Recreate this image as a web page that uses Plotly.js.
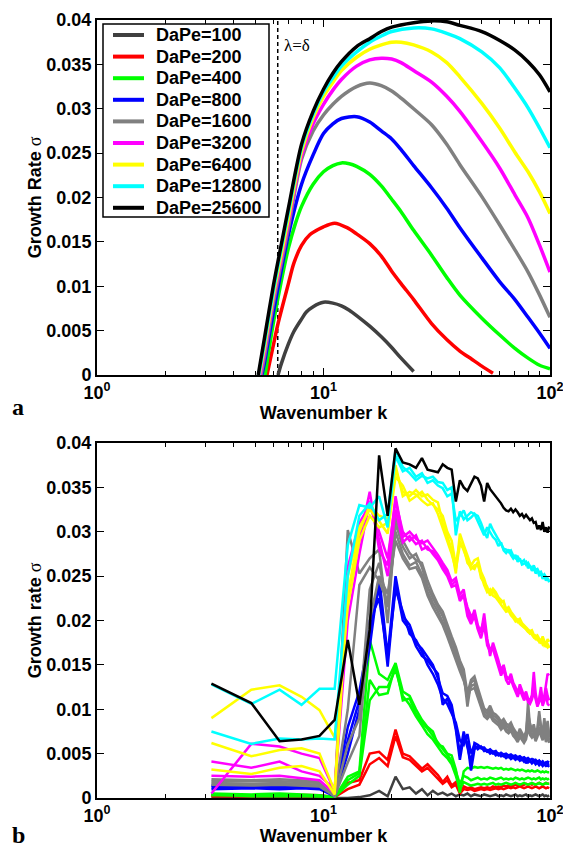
<!DOCTYPE html>
<html><head><meta charset="utf-8">
<script src="https://cdn.plot.ly/plotly-3.0.1.min.js"></script>
<style>html,body{margin:0;padding:0;background:#fff}#chart{width:563px;height:848px}</style>
</head><body><div id="chart"></div>
<script>
// ---------- labels & colours ----------
var DAPE_LABELS = ['DaPe=100','DaPe=200','DaPe=400','DaPe=800','DaPe=1600','DaPe=3200','DaPe=6400','DaPe=12800','DaPe=25600'];
var COLORS = ['#404040','#ff0000','#00ff00','#0000ff','#808080','#ff00ff','#ffff00','#00ffff','#000000'];
var X_TICKS = [1, 10, 100];
var X_TICKTEXT = ['10<sup>0</sup>','10<sup>1</sup>','10<sup>2</sup>'];
var MINOR_TICKS = [2,3,4,5,6,7,8,9,20,30,40,50,60,70,80,90];
var LAMBDA_K = 6.28;

// ---------- panel a: linear theory curves ----------
var K_100 = [6.3,6.5,7,7.4,8,8.4,9,10,11,12,13,14,16,18,20,22,25];
var S_100 = [0,0.0012,0.0035,0.0049,0.0063,0.0071,0.0077,0.0082,0.0081,0.0078,0.0073,0.0067,0.0055,0.0043,0.0031,0.0019,0.0004];
var K_200 = [5.63,6,6.3,7,7.4,8,8.7,10,11.2,12.7,14,16,18,20,22,25,30,35,40,45,50,56];
var S_200 = [0,0.0033,0.0058,0.0103,0.0126,0.0146,0.0158,0.0167,0.0171,0.0166,0.0159,0.0148,0.0134,0.0117,0.0103,0.0085,0.0058,0.0040,0.0027,0.0018,0.0010,0.0002];
var K_400 = [5.52,6,6.5,7,7.5,8,9,10,11,12,13,14,16,18,20,22,25,30,35,40,50,60,70,80,90,100];
var S_400 = [0,0.0058,0.0105,0.0143,0.0170,0.0190,0.0215,0.0229,0.0236,0.0239,0.0238,0.0235,0.0226,0.0213,0.0198,0.0184,0.0163,0.0135,0.0110,0.0090,0.0064,0.0045,0.0030,0.0019,0.0011,0.0007];
var K_800 = [5.35,5.5,6,6.5,7,8,9,10,11,12,14,16,18,20,22,25,30,35,40,50,60,70,80,90,100];
var S_800 = [0,0.0015,0.0070,0.0117,0.0158,0.0215,0.0248,0.0272,0.0283,0.0289,0.0291,0.0285,0.0275,0.0266,0.0254,0.0236,0.0211,0.0188,0.0166,0.0132,0.0105,0.0085,0.0065,0.0047,0.0030];
var K_1600 = [5.3,5.5,6,6.5,7,8,9,10,11,12,14,16,18,20,22,25,30,35,40,50,60,70,80,90,100];
var S_1600 = [0,0.0022,0.0080,0.0125,0.0166,0.0243,0.0275,0.0293,0.0305,0.0314,0.0325,0.0329,0.0326,0.0320,0.0312,0.0300,0.0282,0.0260,0.0237,0.0201,0.0169,0.0141,0.0116,0.0090,0.0065];
var K_3200 = [5.25,5.5,6,6.5,7,8,9,10,11,12,14,16,18,20,22,25,30,35,40,50,60,70,80,90,100];
var S_3200 = [0,0.0028,0.0086,0.0130,0.0172,0.0247,0.0283,0.0305,0.0321,0.0333,0.0348,0.0355,0.0357,0.0356,0.0352,0.0343,0.0330,0.0314,0.0297,0.0263,0.0233,0.0203,0.0177,0.0146,0.0116];
var K_6400 = [5.2,5.5,6,6.5,7,8,9,10,11,12,14,16,18,20,22,25,30,35,40,50,60,70,80,90,100];
var S_6400 = [0,0.0033,0.0090,0.0135,0.0177,0.0252,0.0290,0.0314,0.0330,0.0343,0.0358,0.0367,0.0372,0.0375,0.0375,0.0372,0.0364,0.0352,0.0336,0.0306,0.0278,0.0251,0.0229,0.0206,0.0182];
var K_12800 = [5.18,5.5,6,6.5,7,8,9,10,11,12,14,16,18,20,25,30,35,40,50,60,70,80,90,100];
var S_12800 = [0,0.0038,0.0095,0.0142,0.0184,0.0257,0.0294,0.0319,0.0335,0.0348,0.0364,0.0375,0.0382,0.0387,0.0391,0.0390,0.0385,0.0379,0.0364,0.0346,0.0323,0.0301,0.0278,0.0256];
var K_25600 = [5.15,5.5,6,6.5,7,8,9,10,11,12,14,16,18,20,25,30,35,40,50,60,70,80,90,100];
var S_25600 = [0,0.0043,0.0100,0.0146,0.0188,0.0260,0.0297,0.0322,0.0340,0.0353,0.0370,0.0379,0.0387,0.0392,0.0397,0.0399,0.0398,0.0394,0.0387,0.0377,0.0366,0.0353,0.0338,0.0319];

// ---------- panel b: simulated growth rates ----------
var KB = [3.2,4.8,6.4,8.0,9.6,11.2,12.8,14.4,16.0,17.6,
  19.2,20.8,22.4,24.0,25.6,27.2,28.8,30.4,32.0,33.6,
  35.2,36.8,38.4,40.0,41.6,43.2,44.8,46.4,48.0,49.6,
  51.2,52.8,54.4,56.0,57.6,59.2,60.8,62.4,64.0,65.6,
  67.2,68.8,70.4,72.0,73.6,75.2,76.8,78.4,80.0,81.6,
  83.2,84.8,86.4,88.0,89.6,91.2,92.8,94.4,96.0,97.6,99.2];

var B_100_a = [0.0001,0.0001,0.0001,0.0001,0.0001,0.0000,0.0000,0.0001,0.0003,0.0008,
  0.0002,0.0024,0.0010,0.0012,0.0005,0.0010,0.0003,0.0008,0.0004,0.0006,
  0.0003,0.0005,0.0002,0.0004,0.0003,0.0005,0.0002,0.0004,0.0003,0.0002,
  0.0004,0.0003,0.0002,0.0003,0.0004,0.0002,0.0003,0.0002,0.0004,0.0003,
  0.0002,0.0003,0.0004,0.0002,0.0003,0.0002,0.0003,0.0004,0.0002,0.0003,
  0.0002,0.0003,0.0004,0.0003,0.0002,0.0003,0.0004,0.0002,0.0003,0.0002,0.0003];

var B_200_a = [0.0003,0.0003,0.0004,0.0003,0.0003,0.0001,0.0017,0.0020,0.0050,0.0052,
  0.0043,0.0077,0.0050,0.0047,0.0040,0.0033,0.0038,0.0032,0.0026,0.0018,
  0.0024,0.0014,0.0018,0.0006,0.0013,0.0011,0.0012,0.0010,0.0011,0.0012,
  0.0011,0.0012,0.0011,0.0013,0.0012,0.0013,0.0012,0.0014,0.0013,0.0014,
  0.0013,0.0014,0.0015,0.0014,0.0015,0.0014,0.0015,0.0016,0.0015,0.0016,
  0.0015,0.0016,0.0015,0.0016,0.0017,0.0016,0.0015,0.0016,0.0017,0.0016,0.0016];
var B_200_b = [0.0002,0.0002,0.0002,0.0002,0.0002,0.0001,0.0010,0.0015,0.0038,0.0045,
  0.0036,0.0070,0.0046,0.0043,0.0036,0.0030,0.0034,0.0028,0.0022,0.0016,
  0.0020,0.0012,0.0015,0.0005,0.0010,0.0009,0.0010,0.0008,0.0009,0.0010,
  0.0009,0.0010,0.0009,0.0010,0.0011,0.0010,0.0011,0.0010,0.0011,0.0012,
  0.0011,0.0012,0.0011,0.0012,0.0013,0.0012,0.0011,0.0012,0.0013,0.0012,
  0.0011,0.0012,0.0013,0.0012,0.0011,0.0012,0.0013,0.0012,0.0011,0.0012,0.0011];

var B_400_a = [0.0005,0.0004,0.0005,0.0004,0.0003,0.0001,0.0024,0.0030,0.0178,0.0140,
  0.0133,0.0152,0.0120,0.0115,0.0100,0.0088,0.0080,0.0075,0.0060,0.0058,
  0.0050,0.0048,0.0032,0.0006,0.0030,0.0034,0.0033,0.0035,0.0034,0.0035,
  0.0034,0.0035,0.0034,0.0033,0.0034,0.0033,0.0034,0.0032,0.0033,0.0032,
  0.0033,0.0032,0.0031,0.0032,0.0031,0.0032,0.0031,0.0030,0.0031,0.0030,
  0.0031,0.0030,0.0030,0.0031,0.0030,0.0029,0.0030,0.0029,0.0030,0.0029,0.0029];
var B_400_b = [0.0003,0.0003,0.0004,0.0003,0.0002,0.0001,0.0020,0.0028,0.0133,0.0116,
  0.0118,0.0150,0.0110,0.0112,0.0095,0.0085,0.0078,0.0070,0.0062,0.0055,
  0.0048,0.0042,0.0030,0.0016,0.0025,0.0023,0.0020,0.0022,0.0023,0.0021,
  0.0022,0.0021,0.0023,0.0022,0.0021,0.0022,0.0023,0.0021,0.0022,0.0021,
  0.0022,0.0021,0.0023,0.0022,0.0021,0.0022,0.0021,0.0022,0.0023,0.0022,
  0.0021,0.0022,0.0021,0.0022,0.0023,0.0021,0.0022,0.0021,0.0022,0.0021,0.0022];
var B_400_c = [0.0004,0.0002,0.0002,0.0002,0.0002,0.0001,0.0015,0.0025,0.0110,0.0125,
  0.0125,0.0145,0.0115,0.0105,0.0092,0.0082,0.0072,0.0066,0.0058,0.0050,
  0.0045,0.0038,0.0025,0.0010,0.0018,0.0016,0.0014,0.0015,0.0016,0.0015,
  0.0016,0.0015,0.0016,0.0017,0.0015,0.0016,0.0015,0.0016,0.0017,0.0016,
  0.0015,0.0016,0.0017,0.0016,0.0015,0.0016,0.0017,0.0016,0.0015,0.0016,
  0.0017,0.0016,0.0015,0.0016,0.0017,0.0016,0.0015,0.0016,0.0017,0.0016,0.0016];

var B_800_a = [0.0012,0.0012,0.0013,0.0012,0.0011,0.0003,0.0080,0.0120,0.0186,0.0238,
  0.0148,0.0243,0.0200,0.0190,0.0171,0.0160,0.0155,0.0147,0.0140,0.0105,
  0.0112,0.0100,0.0077,0.0043,0.0069,0.0062,0.0031,0.0055,0.0058,0.0056,
  0.0055,0.0052,0.0053,0.0050,0.0051,0.0048,0.0050,0.0047,0.0048,0.0046,
  0.0047,0.0045,0.0046,0.0044,0.0046,0.0043,0.0045,0.0039,0.0044,0.0042,
  0.0040,0.0043,0.0041,0.0040,0.0042,0.0039,0.0041,0.0038,0.0040,0.0038,0.0039];
var B_800_b = [0.0010,0.0011,0.0010,0.0011,0.0010,0.0002,0.0050,0.0100,0.0200,0.0225,
  0.0160,0.0235,0.0210,0.0185,0.0178,0.0165,0.0150,0.0140,0.0128,0.0112,
  0.0106,0.0095,0.0085,0.0065,0.0060,0.0072,0.0050,0.0060,0.0055,0.0058,
  0.0053,0.0054,0.0050,0.0052,0.0048,0.0050,0.0047,0.0048,0.0045,0.0047,
  0.0044,0.0046,0.0043,0.0045,0.0042,0.0044,0.0041,0.0043,0.0040,0.0042,
  0.0039,0.0041,0.0038,0.0040,0.0037,0.0039,0.0036,0.0038,0.0036,0.0037,0.0035];
var B_800_c = [0.0014,0.0013,0.0014,0.0013,0.0012,0.0003,0.0065,0.0110,0.0170,0.0250,
  0.0160,0.0250,0.0205,0.0195,0.0175,0.0168,0.0158,0.0150,0.0135,0.0118,
  0.0115,0.0105,0.0080,0.0050,0.0075,0.0058,0.0040,0.0062,0.0060,0.0057,
  0.0057,0.0053,0.0055,0.0052,0.0053,0.0049,0.0051,0.0049,0.0050,0.0048,
  0.0049,0.0047,0.0048,0.0046,0.0047,0.0045,0.0046,0.0044,0.0045,0.0043,
  0.0044,0.0042,0.0043,0.0041,0.0042,0.0040,0.0041,0.0039,0.0040,0.0041,0.0040];

var B_1600_a = [0.0019,0.0019,0.0019,0.0018,0.0017,0.0003,0.0302,0.0253,0.0270,0.0280,
  0.0197,0.0310,0.0283,0.0270,0.0275,0.0260,0.0238,0.0225,0.0215,0.0205,
  0.0190,0.0178,0.0165,0.0150,0.0140,0.0103,0.0130,0.0133,0.0120,0.0110,
  0.0098,0.0095,0.0100,0.0093,0.0091,0.0088,0.0083,0.0086,0.0081,0.0079,
  0.0082,0.0076,0.0072,0.0068,0.0075,0.0070,0.0066,0.0072,0.0108,0.0080,
  0.0074,0.0079,0.0070,0.0076,0.0093,0.0078,0.0071,0.0085,0.0070,0.0082,0.0068];
var B_1600_b = [0.0017,0.0016,0.0017,0.0016,0.0015,0.0002,0.0060,0.0090,0.0235,0.0265,
  0.0215,0.0300,0.0275,0.0262,0.0266,0.0252,0.0232,0.0220,0.0210,0.0198,
  0.0186,0.0172,0.0160,0.0146,0.0135,0.0112,0.0126,0.0128,0.0116,0.0105,
  0.0095,0.0092,0.0096,0.0090,0.0087,0.0085,0.0080,0.0083,0.0078,0.0076,
  0.0079,0.0073,0.0070,0.0066,0.0072,0.0068,0.0064,0.0069,0.0085,0.0075,
  0.0071,0.0074,0.0067,0.0072,0.0080,0.0074,0.0068,0.0078,0.0066,0.0074,0.0065];
var B_1600_c = [0.0021,0.0020,0.0021,0.0020,0.0019,0.0004,0.0100,0.0240,0.0260,0.0245,
  0.0220,0.0318,0.0290,0.0276,0.0268,0.0265,0.0245,0.0230,0.0218,0.0210,
  0.0195,0.0182,0.0170,0.0155,0.0145,0.0118,0.0133,0.0137,0.0124,0.0113,
  0.0101,0.0098,0.0104,0.0096,0.0094,0.0091,0.0086,0.0089,0.0084,0.0082,
  0.0085,0.0079,0.0075,0.0071,0.0078,0.0073,0.0069,0.0075,0.0095,0.0084,
  0.0077,0.0083,0.0073,0.0079,0.0098,0.0081,0.0074,0.0090,0.0073,0.0087,0.0071];
var B_1600_d = [0.0015,0.0014,0.0015,0.0014,0.0013,0.0002,0.0040,0.0070,0.0200,0.0250,
  0.0230,0.0290,0.0270,0.0258,0.0260,0.0248,0.0228,0.0215,0.0205,0.0195,
  0.0182,0.0168,0.0156,0.0143,0.0132,0.0120,0.0122,0.0124,0.0113,0.0102,
  0.0092,0.0089,0.0093,0.0087,0.0084,0.0082,0.0077,0.0080,0.0075,0.0073,
  0.0076,0.0070,0.0067,0.0063,0.0069,0.0065,0.0062,0.0066,0.0079,0.0071,
  0.0068,0.0071,0.0064,0.0069,0.0076,0.0070,0.0065,0.0073,0.0063,0.0070,0.0062];

var B_3200_a = [0.0041,0.0034,0.0041,0.0030,0.0025,0.0010,0.0220,0.0290,0.0345,0.0280,
  0.0262,0.0340,0.0294,0.0300,0.0292,0.0287,0.0290,0.0282,0.0274,0.0265,
  0.0257,0.0244,0.0248,0.0229,0.0235,0.0210,0.0200,0.0212,0.0195,0.0186,
  0.0208,0.0180,0.0160,0.0175,0.0165,0.0155,0.0142,0.0150,0.0138,0.0133,
  0.0140,0.0130,0.0125,0.0118,0.0128,0.0120,0.0115,0.0120,0.0112,0.0110,
  0.0116,0.0142,0.0118,0.0107,0.0112,0.0125,0.0108,0.0115,0.0131,0.0140,0.0138];
var B_3200_b = [0.0025,0.0024,0.0025,0.0022,0.0020,0.0005,0.0260,0.0310,0.0330,0.0300,
  0.0270,0.0335,0.0300,0.0290,0.0296,0.0280,0.0283,0.0275,0.0268,0.0258,
  0.0250,0.0238,0.0240,0.0222,0.0228,0.0205,0.0196,0.0205,0.0190,0.0180,
  0.0195,0.0172,0.0165,0.0168,0.0158,0.0150,0.0138,0.0145,0.0133,0.0128,
  0.0134,0.0126,0.0120,0.0114,0.0122,0.0116,0.0110,0.0115,0.0108,0.0106,
  0.0111,0.0120,0.0110,0.0103,0.0108,0.0115,0.0104,0.0109,0.0118,0.0106,0.0104];
var B_3200_c = [0.0005,0.0061,0.0058,0.0050,0.0045,0.0008,0.0200,0.0275,0.0335,0.0290,
  0.0250,0.0325,0.0288,0.0295,0.0286,0.0290,0.0280,0.0278,0.0270,0.0262,
  0.0253,0.0240,0.0245,0.0225,0.0230,0.0215,0.0205,0.0208,0.0192,0.0190,
  0.0200,0.0176,0.0168,0.0170,0.0160,0.0152,0.0146,0.0148,0.0136,0.0135,
  0.0137,0.0128,0.0122,0.0121,0.0124,0.0118,0.0113,0.0117,0.0110,0.0109,
  0.0113,0.0130,0.0114,0.0105,0.0110,0.0120,0.0106,0.0112,0.0124,0.0115,0.0110];

var B_6400_a = [0.0090,0.0122,0.0127,0.0114,0.0099,0.0068,0.0215,0.0290,0.0318,0.0305,
  0.0310,0.0370,0.0345,0.0340,0.0347,0.0340,0.0342,0.0336,0.0333,0.0310,
  0.0295,0.0280,0.0253,0.0298,0.0285,0.0273,0.0262,0.0268,0.0270,0.0255,
  0.0247,0.0236,0.0231,0.0236,0.0232,0.0226,0.0223,0.0220,0.0213,0.0215,
  0.0210,0.0206,0.0203,0.0200,0.0202,0.0197,0.0195,0.0193,0.0190,0.0188,
  0.0189,0.0184,0.0181,0.0183,0.0180,0.0176,0.0182,0.0176,0.0172,0.0179,0.0176];
var B_6400_b = [0.0062,0.0047,0.0054,0.0056,0.0050,0.0008,0.0250,0.0305,0.0325,0.0312,
  0.0298,0.0362,0.0352,0.0335,0.0340,0.0345,0.0336,0.0330,0.0325,0.0318,
  0.0300,0.0290,0.0262,0.0290,0.0278,0.0268,0.0258,0.0262,0.0263,0.0250,
  0.0240,0.0232,0.0235,0.0228,0.0226,0.0222,0.0218,0.0215,0.0210,0.0211,
  0.0206,0.0203,0.0199,0.0201,0.0196,0.0194,0.0192,0.0190,0.0187,0.0186,
  0.0184,0.0181,0.0183,0.0178,0.0177,0.0174,0.0178,0.0172,0.0174,0.0170,0.0172];
var B_6400_c = [0.0032,0.0027,0.0034,0.0036,0.0030,0.0004,0.0230,0.0300,0.0330,0.0318,
  0.0315,0.0375,0.0340,0.0345,0.0342,0.0335,0.0330,0.0332,0.0320,0.0305,
  0.0290,0.0275,0.0258,0.0285,0.0282,0.0265,0.0260,0.0258,0.0266,0.0248,
  0.0243,0.0238,0.0228,0.0233,0.0229,0.0224,0.0220,0.0222,0.0212,0.0213,
  0.0208,0.0205,0.0201,0.0198,0.0199,0.0195,0.0193,0.0191,0.0188,0.0185,
  0.0186,0.0182,0.0179,0.0180,0.0176,0.0178,0.0173,0.0175,0.0170,0.0174,0.0169];

var B_12800_a = [0.0075,0.0061,0.0067,0.0066,0.0067,0.0066,0.0250,0.0318,0.0332,0.0313,
  0.0320,0.0392,0.0373,0.0366,0.0358,0.0363,0.0360,0.0362,0.0356,0.0355,
  0.0347,0.0350,0.0296,0.0323,0.0314,0.0318,0.0322,0.0320,0.0318,0.0310,
  0.0300,0.0293,0.0309,0.0302,0.0296,0.0290,0.0286,0.0281,0.0280,0.0277,
  0.0279,0.0273,0.0270,0.0272,0.0268,0.0266,0.0268,0.0263,0.0265,0.0261,
  0.0259,0.0262,0.0257,0.0258,0.0254,0.0255,0.0250,0.0252,0.0248,0.0246,0.0247];
var B_12800_b = [0.0128,0.0106,0.0122,0.0105,0.0123,0.0123,0.0285,0.0330,0.0327,0.0340,
  0.0305,0.0385,0.0368,0.0372,0.0362,0.0366,0.0355,0.0358,0.0352,0.0349,
  0.0340,0.0343,0.0312,0.0318,0.0324,0.0313,0.0316,0.0320,0.0312,0.0303,
  0.0296,0.0305,0.0300,0.0294,0.0291,0.0284,0.0288,0.0279,0.0276,0.0280,
  0.0274,0.0270,0.0274,0.0266,0.0270,0.0263,0.0264,0.0266,0.0259,0.0262,
  0.0256,0.0259,0.0253,0.0256,0.0251,0.0253,0.0247,0.0250,0.0245,0.0248,0.0243];

var B_25600_a = [0.0129,0.0107,0.0064,0.0066,0.0070,0.0088,0.0178,0.0105,0.0190,0.0386,
  0.0318,0.0394,0.0378,0.0376,0.0372,0.0383,0.0370,0.0368,0.0367,0.0376,
  0.0372,0.0370,0.0334,0.0358,0.0350,0.0346,0.0355,0.0362,0.0360,0.0352,
  0.0334,0.0355,0.0348,0.0344,0.0340,0.0336,0.0332,0.0327,0.0324,0.0323,
  0.0326,0.0322,0.0325,0.0322,0.0318,0.0320,0.0316,0.0319,0.0316,0.0313,
  0.0315,0.0310,0.0311,0.0303,0.0307,0.0302,0.0311,0.0300,0.0305,0.0299,0.0306];

// ---------- build traces ----------
var topK = [K_100,K_200,K_400,K_800,K_1600,K_3200,K_6400,K_12800,K_25600];
var topS = [S_100,S_200,S_400,S_800,S_1600,S_3200,S_6400,S_12800,S_25600];
var botSeries = [
  [B_100_a],
  [B_200_a,B_200_b],
  [B_400_a,B_400_b,B_400_c],
  [B_800_a,B_800_b,B_800_c],
  [B_1600_a,B_1600_b,B_1600_c,B_1600_d],
  [B_3200_a,B_3200_b,B_3200_c],
  [B_6400_a,B_6400_b,B_6400_c],
  [B_12800_a,B_12800_b],
  [B_25600_a]
];

var traces = [];
traces.push({x:[LAMBDA_K,LAMBDA_K], y:[0,0.04], xaxis:'x', yaxis:'y', mode:'lines',
  line:{color:'black', width:1.5, dash:'4px,3px'}, showlegend:false, hoverinfo:'skip'});
for (var i=0;i<9;i++){
  traces.push({x:topK[i], y:topS[i], xaxis:'x', yaxis:'y', mode:'lines', name:DAPE_LABELS[i],
    line:{color:COLORS[i], width:3.5, shape:'spline', smoothing:0.8}, showlegend:false});
}
for (var i=0;i<9;i++){
  botSeries[i].forEach(function(s){
    traces.push({x:KB, y:s, xaxis:'x2', yaxis:'y2', mode:'lines', name:DAPE_LABELS[i],
      line:{color:COLORS[i], width:2.5}, showlegend:false});
  });
}

var FONT = 'Liberation Sans, Arial, Helvetica, sans-serif';
var SERIF = 'Liberation Serif, Times New Roman, serif';
var SIG = '<span style="font-family:Liberation Serif;font-weight:normal">σ</span>';
function xax(anchor){
  return {type:'log', range:[0,2], anchor:anchor, tickmode:'array', tickvals:X_TICKS, ticktext:X_TICKTEXT,
    ticks:'inside', ticklen:7, tickwidth:1, tickcolor:'black', showline:true, linewidth:2, linecolor:'black',
    mirror:'ticks', showgrid:false, zeroline:false, ticklabeloverflow:'allow',
    minor:{tickmode:'array', tickvals:MINOR_TICKS, ticks:'inside', ticklen:4, tickwidth:1, tickcolor:'black', showgrid:false},
    tickfont:{family:FONT, size:18, color:'black', weight:'bold'},
    title:{text:'Wavenumber k', font:{family:FONT, size:18, color:'black', weight:'bold'}, standoff:2}};
}
function yax(anchor, domain, title){
  return {range:[0,0.04], domain:domain, anchor:anchor, dtick:0.005, tick0:0,
    ticks:'inside', ticklen:7, tickwidth:1, tickcolor:'black', showline:true, linewidth:2, linecolor:'black',
    mirror:'ticks', showgrid:false, zeroline:false,
    tickfont:{family:FONT, size:18, color:'black', weight:'bold'},
    title:{text:title, font:{family:FONT, size:18, color:'black', weight:'bold'}, standoff:0}};
}

// ---------- legend for panel a (box, line samples, labels) ----------
var PLOT_L = 97, PLOT_W = 453, PAPER_TOP = 20, PAPER_H = 778;
function px2x(p){ return (p - PLOT_L) / PLOT_W; }
function px2y(p){ return (PAPER_TOP + PAPER_H - p) / PAPER_H; }
var shapes = [{type:'rect', xref:'paper', yref:'paper', x0:px2x(103), x1:px2x(269), y0:px2y(217), y1:px2y(24),
  fillcolor:'white', line:{color:'black', width:1.5}, layer:'above'}];
var annotations = [
  {xref:'x', yref:'y', x:Math.log10(6.55), y:0.0371, xanchor:'left', yanchor:'middle', showarrow:false,
   text:'λ=δ', font:{family:SERIF, size:17, color:'black'}},
  {xref:'paper', yref:'paper', x:px2x(18), y:px2y(407), xanchor:'center', yanchor:'middle', showarrow:false,
   text:'<b>a</b>', font:{family:SERIF, size:24, color:'black'}},
  {xref:'paper', yref:'paper', x:px2x(18), y:px2y(835), xanchor:'center', yanchor:'middle', showarrow:false,
   text:'<b>b</b>', font:{family:SERIF, size:24, color:'black'}}
];
for (var i=0;i<9;i++){
  var yy = px2y(35 + 21.6*i);
  shapes.push({type:'line', xref:'paper', yref:'paper', x0:px2x(113), x1:px2x(144), y0:yy, y1:yy,
    line:{color:COLORS[i], width:4}, layer:'above'});
  annotations.push({xref:'paper', yref:'paper', x:px2x(154), y:yy, xanchor:'left', yanchor:'middle', showarrow:false,
    text:DAPE_LABELS[i], font:{family:FONT, size:18, color:'black', weight:'bold'}});
}

var layout = {
  width:563, height:848,
  margin:{l:97, r:13, t:20, b:50},
  paper_bgcolor:'white', plot_bgcolor:'white',
  font:{family:FONT, color:'black'},
  xaxis: Object.assign(xax('y'), {domain:[0,1]}),
  yaxis: yax('x', [0.5437,1], 'Growth Rate '+SIG),
  xaxis2: Object.assign(xax('y2'), {domain:[0,1]}),
  yaxis2: yax('x2', [0,0.4563], 'Growth rate '+SIG),
  showlegend:false,
  shapes:shapes,
  annotations:annotations
};

Plotly.newPlot('chart', traces, layout, {displayModeBar:false, staticPlot:true});
</script></body></html>
